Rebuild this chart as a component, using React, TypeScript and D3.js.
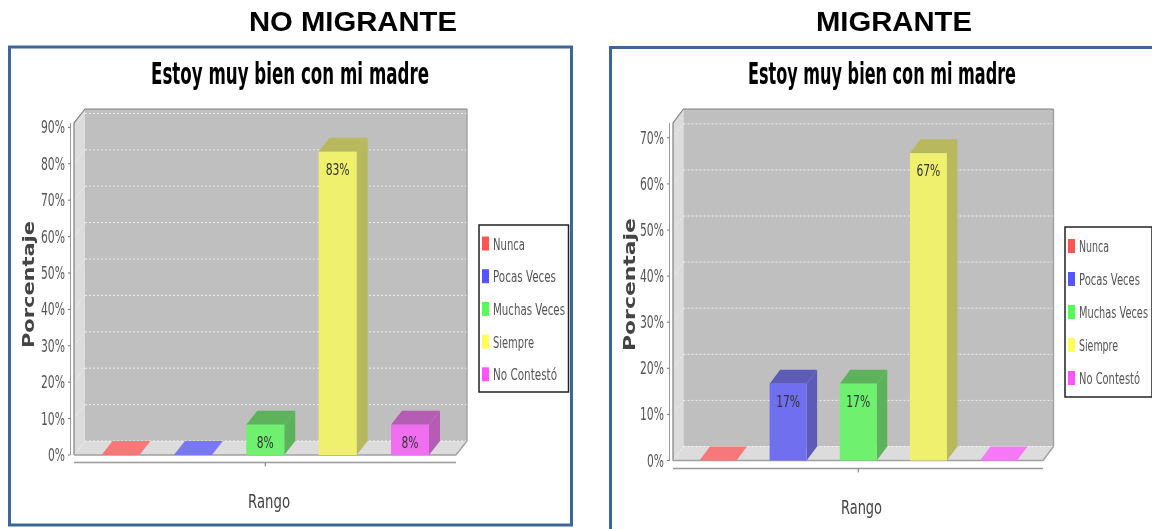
import React from "react";
import * as d3 from "d3";

const categories = ["Nunca", "Pocas Veces", "Muchas Veces", "Siempre", "No Contestó"];
const noMigranteValues = [0, 0, 8.33, 83.33, 8.33];
const migranteValues = [0, 16.67, 16.67, 66.67, 0];
const noMigranteLabels = ["", "", "8%", "83%", "8%"];
const migranteLabels = ["", "17%", "17%", "67%", ""];
const noMigranteTicks = [0, 10, 20, 30, 40, 50, 60, 70, 80, 90];
const migranteTicks = [0, 10, 20, 30, 40, 50, 60, 70];
const frontColors = ["#f77878", "#6f6ff0", "#6ff06f", "#f0f06f", "#f06ff0"];
const sideColors = ["#c06060", "#5c5cb8", "#5cb35c", "#b8b85c", "#b55cb5"];
const flatColors = ["#f77878", "#7878f7", "#78f778", "#f7f778", "#f778f7"];
const legendColors = ["#ff5555", "#5555ff", "#55ff55", "#ffff55", "#ff55ff"];

const narrow = "'DejaVu Sans', sans-serif";

function T({ x, y, w, size, fill = "#555", weight = 400, family = narrow, children, transform }: any) {
  return (
    <text x={x} y={y} fontSize={size} fill={fill} fontWeight={weight} fontFamily={family}
      textLength={w} lengthAdjust="spacingAndGlyphs" transform={transform}>{children}</text>
  );
}

function Panel({ p, values, labels, ticks }: any) {
  const { x0, x1, y0, yPer10, dx, dy, yTop, c0, c1, barW } = p;
  const y = d3.scaleLinear().domain([0, 10]).range([y0, y0 - yPer10]);
  const x = d3.scalePoint<string>().domain(categories).range([c0, c1]);
  const poly = (pts: number[][]) => d3.line()(pts as any) + "Z";
  return (
    <g>
      {/* walls */}
      <path d={poly([[x0, yTop], [x0 + dx, yTop - dy], [x0 + dx, y0 - dy], [x0, y0]])} fill="#dcdcdc" />
      <path d={poly([[x0, y0], [x0 + dx, y0 - dy], [x1 + dx, y0 - dy], [x1, y0]])} fill="#dcdcdc" />
      <rect x={x0 + dx} y={yTop - dy} width={x1 - x0} height={y0 - yTop} fill="#bfbfbf" />
      {/* grid */}
      {ticks.map((t: number) => (
        <g key={t} stroke="#fff" strokeOpacity={0.75} strokeDasharray="2 2" strokeWidth={1} fill="none">
          <line x1={x0 + dx} x2={x1 + dx} y1={y(t) - dy} y2={y(t) - dy} />
          <line x1={x0} x2={x0 + dx} y1={y(t)} y2={y(t) - dy} strokeOpacity={0.45} />
        </g>
      ))}
      {/* frame lines */}
      <path d={`M${x0},${y0}V${yTop}L${x0 + dx},${yTop - dy}H${x1 + dx}`} fill="none" stroke="#808080" strokeWidth={1.2} />
      <path d={`M${x1 + dx},${yTop - dy}V${y0 - dy}L${x1},${y0}H${x0}`} fill="none" stroke="#a0a0a0" strokeWidth={1.4} />
      {/* bars */}
      {categories.map((c, i) => {
        const v = values[i];
        const left = x(c)! - barW / 2;
        const right = left + barW;
        if (v === 0) {
          return <path key={c} d={poly([[left, y0], [left + dx, y0 - dy], [right + dx, y0 - dy], [right, y0]])} fill={flatColors[i]} />;
        }
        const top = y(v);
        return (
          <g key={c}>
            <path d={poly([[left, top], [left + dx, top - dy], [right + dx, top - dy], [right, top]])} fill={sideColors[i]} />
            <path d={poly([[right, top], [right + dx, top - dy], [right + dx, y0 - dy], [right, y0]])} fill={sideColors[i]} />
            <rect x={left} y={top} width={barW} height={y0 - top} fill={frontColors[i]} />
            <text x={x(c)!} y={top + (v < 10 ? 23 : 23)} fontSize={16} fill="#333" fontFamily={narrow}
              textAnchor="middle" textLength={labels[i].length === 2 ? 17 : 24} lengthAdjust="spacingAndGlyphs">{labels[i]}</text>
          </g>
        );
      })}
      {/* y axis */}
      <line x1={x0 - 3.5} x2={x0 - 3.5} y1={yTop} y2={y0} stroke="#999" strokeWidth={1} />
      {ticks.map((t: number) => (
        <g key={t}>
          <line x1={x0 - 6} x2={x0 - 3.5} y1={y(t)} y2={y(t)} stroke="#777" />
          <text x={x0 - 9} y={y(t) + 6} fontSize={17} fill="#555" fontFamily={narrow} textAnchor="end"
            textLength={t === 0 ? 17 : 24} lengthAdjust="spacingAndGlyphs">{t}%</text>
        </g>
      ))}
      {/* x axis */}
      <line x1={x0} x2={x1} y1={y0 + p.axisGap} y2={y0 + p.axisGap} stroke="#999" strokeWidth={1.6} />
      <line x1={x(categories[2])!} x2={x(categories[2])!} y1={y0 + p.axisGap} y2={y0 + p.axisGap + 4} stroke="#777" />
    </g>
  );
}

function Legend({ l }: any) {
  return (
    <g>
      <rect x={l.x} y={l.y} width={l.w} height={l.h} fill="#fff" stroke="#222" strokeWidth={1.5} />
      {categories.map((c, i) => (
        <g key={c}>
          <rect x={l.x + 3} y={l.first + i * l.step - 7} width={7} height={14} fill={legendColors[i]} />
          <T x={l.x + 14} y={l.first + i * l.step + 6} size={16} w={l.widths[i]}>{c}</T>
        </g>
      ))}
    </g>
  );
}

const leftPanel = { x0: 74, x1: 456, y0: 455, yPer10: 36.4, dx: 11, dy: 14, yTop: 123, c0: 120.5, c1: 410, barW: 38, axisGap: 7.5 };
const rightPanel = { x0: 673, x1: 1043, y0: 460.5, yPer10: 46.1, dx: 10.5, dy: 14, yTop: 123, c0: 718, c1: 998.5, barW: 37, axisGap: 8 };
const leftLegend = { x: 479, y: 225, w: 89.5, h: 167, first: 243.5, step: 32.7, widths: [32, 63, 72, 41, 64] };
const rightLegend = { x: 1065, y: 227, w: 87, h: 170, first: 246, step: 33, widths: [30, 61, 69, 39, 61] };

export default function App() {
  return (
    <svg width={1152} height={529} style={{ position: "absolute", left: 0, top: 0, filter: "blur(0.4px)" }}>
      <rect width={1152} height={529} fill="#fff" />
      <T x={249} y={31} size={27} w={208} weight={700} fill="#000" family="'Liberation Sans', sans-serif">NO MIGRANTE</T>
      <T x={816} y={31} size={27} w={156} weight={700} fill="#000" family="'Liberation Sans', sans-serif">MIGRANTE</T>

      <rect x={9.5} y={47} width={562} height={478} fill="#fff" stroke="#3e6699" strokeWidth={3} />
      <path d="M1153,47.5H610.5V530" fill="#fff" stroke="#3e6699" strokeWidth={3} />

      <T x={151} y={84} size={30} w={278} weight={700} fill="#000">Estoy muy bien con mi madre</T>
      <T x={748} y={84} size={30} w={268} weight={700} fill="#000">Estoy muy bien con mi madre</T>

      <Panel p={leftPanel} values={noMigranteValues} labels={noMigranteLabels} ticks={noMigranteTicks} />
      <Panel p={rightPanel} values={migranteValues} labels={migranteLabels} ticks={migranteTicks} />
      <Legend l={leftLegend} />
      <Legend l={rightLegend} />

      <T x={0} y={0} size={15} w={127} weight={700} fill="#444" transform="translate(34,348) rotate(-90)">Porcentaje</T>
      <T x={0} y={0} size={15} w={133} weight={700} fill="#444" transform="translate(635,351) rotate(-90)">Porcentaje</T>
      <T x={248} y={508} size={20} w={42} fill="#444">Rango</T>
      <T x={841} y={514} size={20} w={41} fill="#444">Rango</T>
    </svg>
  );
}
